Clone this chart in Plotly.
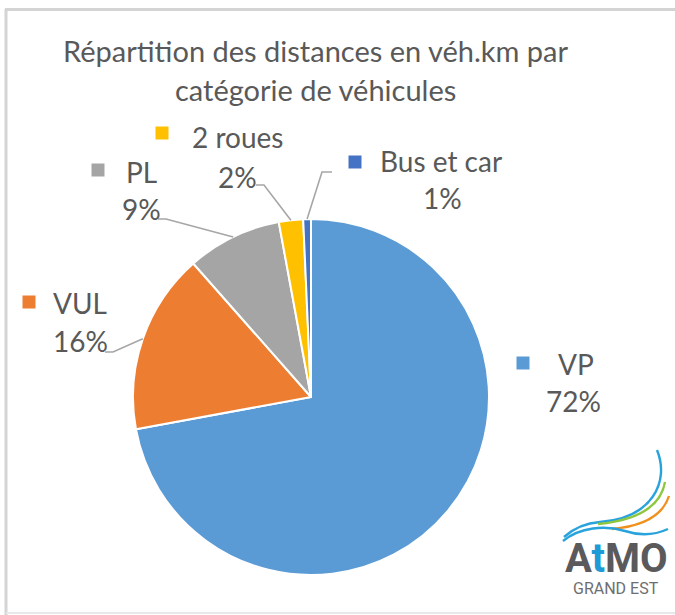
import math
import plotly.graph_objects as go

# ---------------- data ----------------
categories = ["VP", "VUL", "PL", "2 roues", "Bus et car"]
values = [72.1, 16.4, 8.6, 2.2, 0.7]
colors = ["#5B9BD5", "#ED7D31", "#A5A5A5", "#FFC000", "#4472C4"]
title_lines = ["Répartition des distances en véh.km par", "catégorie de véhicules"]

# ---------------- layout (pixels) ----------------
W, H = 675, 615
CX, CY, R = 311, 397, 178
FONT = "Lato"
TXT = "#595959"
LINE = "#A6A6A6"

# label placement: name centre, pct centre, key square centre, leader start, leader elbow
label_layout = {
    "VP":         dict(name=(576, 364), pct=(573, 401), key=(523, 363), lead=None),
    "VUL":        dict(name=(80, 303),  pct=(80, 341),  key=(29, 302),  lead=[(105, 352), (113, 352)]),
    "PL":         dict(name=(141, 172), pct=(141, 209), key=(98, 170),  lead=[(158, 219), (166, 219)]),
    "2 roues":    dict(name=(237, 137), pct=(237, 177), key=(162, 133), lead=[(256, 185), (264, 185)]),
    "Bus et car": dict(name=(441, 161), pct=(442, 198), key=(355, 162), lead=[(332, 172), (322, 172)]),
}


def px(x):
    return x / W


def py(y):
    return 1 - y / H


fig = go.Figure(
    go.Pie(
        labels=categories,
        values=values,
        sort=False,
        direction="clockwise",
        rotation=0,
        marker=dict(colors=colors, line=dict(color="white", width=2)),
        textinfo="none",
        hoverinfo="label+percent",
        showlegend=False,
        domain=dict(x=[px(CX - R), px(CX + R)], y=[py(CY + R), py(CY - R)]),
    )
)

annotations = []
shapes = []

# title
for i, t in enumerate(title_lines):
    annotations.append(dict(
        text=t, x=px(315), y=py(51 + 38 * i), xref="paper", yref="paper",
        showarrow=False, xanchor="center", yanchor="middle",
        font=dict(family=FONT, size=29, color=TXT)))

# labels, keys and leader lines
total = sum(values)
cum = 0.0
for cat, v, col in zip(categories, values, colors):
    mid = (cum + v / 2) / total * 2 * math.pi
    cum += v
    lay = label_layout[cat]
    pct = f"{round(v / total * 100)}%"
    annotations.append(dict(
        text=cat, x=px(lay["name"][0]), y=py(lay["name"][1]), xref="paper", yref="paper",
        showarrow=False, xanchor="center", yanchor="middle",
        font=dict(family=FONT, size=28, color=TXT)))
    annotations.append(dict(
        text=pct, x=px(lay["pct"][0]), y=py(lay["pct"][1]), xref="paper", yref="paper",
        showarrow=False, xanchor="center", yanchor="middle",
        font=dict(family=FONT, size=28, color=TXT)))
    kx, ky = lay["key"]
    s = 6.5
    shapes.append(dict(type="rect", xref="paper", yref="paper",
                       x0=px(kx - s), x1=px(kx + s), y0=py(ky + s), y1=py(ky - s),
                       fillcolor=col, line=dict(width=0)))
    if lay["lead"]:
        ex = CX + R * math.sin(mid)
        ey = CY - R * math.cos(mid)
        pts = lay["lead"] + [(ex, ey)]
        path = "M " + " L ".join(f"{px(a):.5f},{py(b):.5f}" for a, b in pts)
        shapes.append(dict(type="path", xref="paper", yref="paper", path=path,
                           line=dict(color=LINE, width=1.6)))

# frame
shapes.append(dict(type="line", xref="paper", yref="paper", x0=px(5), x1=1, y0=py(9.5), y1=py(9.5),
                   line=dict(color="#D4D4D4", width=3)))
shapes.append(dict(type="line", xref="paper", yref="paper", x0=px(6), x1=px(6), y0=py(9), y1=0,
                   line=dict(color="#D4D4D4", width=3)))
shapes.append(dict(type="line", xref="paper", yref="paper", x0=px(6), x1=1, y0=py(613), y1=py(613),
                   line=dict(color="#E8E8E8", width=2)))


# logo (decorative)
def pth(pts):
    out = []
    for cmd, coords in pts:
        out.append(cmd + " " + " ".join(f"{px(a):.5f},{py(b):.5f}" for a, b in coords))
    return " ".join(out)


logo_paths = [
    ("#29A3DC", [("M", [(657, 450)]), ("C", [(670, 482), (652, 518), (600, 522)]),
                 ("C", [(585, 523), (573, 529), (564, 537)])]),
    ("#8DC63F", [("M", [(665, 482)]), ("C", [(661, 505), (640, 520), (598, 524)])]),
    ("#F18F1C", [("M", [(669, 496)]), ("C", [(663, 515), (645, 526), (612, 529)])]),
    ("#29A3DC", [("M", [(563, 541)]), ("C", [(580, 527), (605, 525), (625, 531)]),
                 ("C", [(640, 536), (655, 535), (668, 529)])]),
]
for col, segs in logo_paths:
    shapes.append(dict(type="path", xref="paper", yref="paper", path=pth(segs),
                       line=dict(color=col, width=2.4)))

annotations.append(dict(
    text="<b>A<span style='color:#1E9AD6'>t</span>MO</b>", x=px(616), y=py(558),
    xref="paper", yref="paper", showarrow=False, xanchor="center", yanchor="middle",
    font=dict(family="Liberation Sans Narrow, Roboto", size=40, color="#5A5A5C")))
annotations.append(dict(
    text="GRAND EST", x=px(616), y=py(588), xref="paper", yref="paper", showarrow=False,
    xanchor="center", yanchor="middle", font=dict(family="Roboto", size=16, color="#6D6E70")))

fig.update_layout(
    width=W, height=H,
    margin=dict(l=0, r=0, t=0, b=0),
    paper_bgcolor="white", plot_bgcolor="white",
    annotations=annotations, shapes=shapes,
)

fig.write_html("out.html", config={"displayModeBar": False},
               post_script="document.body.style.margin='0';")
